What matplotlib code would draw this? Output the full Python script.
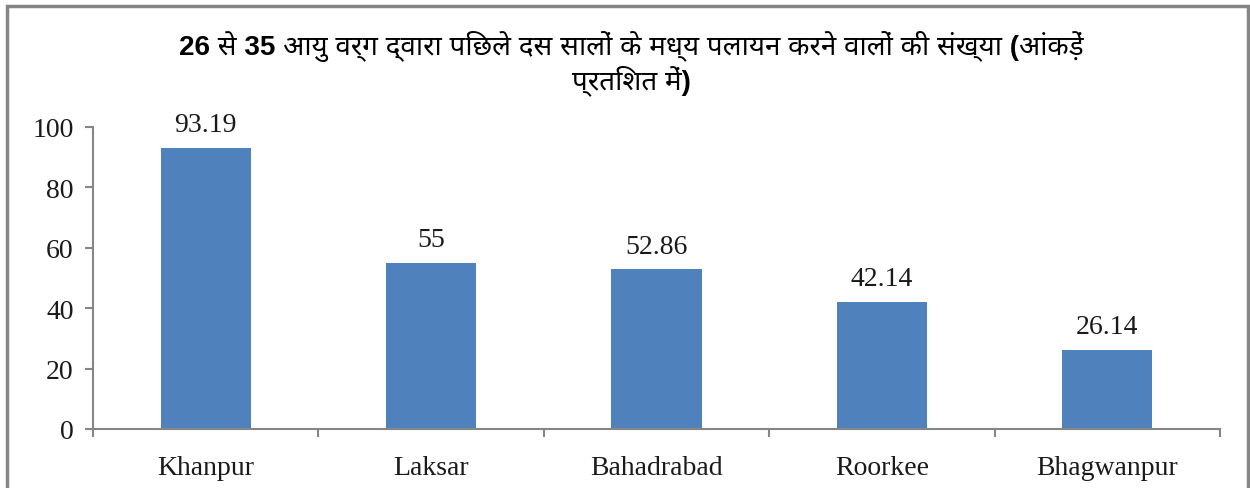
import matplotlib.pyplot as plt
from matplotlib.patches import Rectangle

# chart data
title = "26 से 35 आयु वर्ग द्वारा पिछले दस सालों के मध्य पलायन करने वालों की संख्या (आंकड़ें\nप्रतिशत में)"
blocks = ["Khanpur", "Laksar", "Bahadrabad", "Roorkee", "Bhagwanpur"]
values = [93.19, 55, 52.86, 42.14, 26.14]
value_labels = ["93.19", "55", "52.86", "42.14", "26.14"]
yticks = [0, 20, 40, 60, 80, 100]

serif = ["Liberation Serif", "DejaVu Serif"]
title_fonts = ["Liberation Sans", "Noto Sans", "DejaVu Sans"]

fig = plt.figure(figsize=(12.5, 4.89), dpi=100)
ax = fig.add_axes([0.0744, 0.1207, 0.9016, 0.6176])

x = range(len(blocks))
ax.bar(x, values, width=0.4, color="#4f81bd", zorder=2)
for xi, v, lab in zip(x, values, value_labels):
    ax.text(xi, v + 3.5, lab, ha="center", va="bottom", fontsize=20, family=serif, color="#1a1a1a")

ax.set_xlim(-0.5, len(blocks) - 0.5)
ax.set_ylim(0, 100)
ax.set_yticks(yticks)
ax.set_yticklabels([str(t) for t in yticks], fontsize=20, family=serif, color="#1a1a1a")

# category labels centred, ticks at the boundaries
ax.set_xticks([i - 0.5 for i in range(len(blocks) + 1)])
ax.set_xticklabels([])
ax.set_xticks(list(x), minor=True)
ax.set_xticklabels(blocks, minor=True, fontsize=20, family=serif, color="#1a1a1a")
ax.tick_params(axis="x", which="minor", length=0, pad=19)
ax.tick_params(axis="x", which="major", length=6, width=1.5, color="#868686")
ax.tick_params(axis="y", length=6, width=1.5, color="#868686", pad=8)

for side in ["top", "right"]:
    ax.spines[side].set_visible(False)
for side in ["left", "bottom"]:
    ax.spines[side].set_color("#868686")
    ax.spines[side].set_linewidth(1.5)

fig.text(0.505, 0.937, title, ha="center", va="top", fontsize=20, fontweight="bold",
         family=title_fonts, linespacing=1.15)

# outer chart frame
fig.patches.append(Rectangle((7 / 1250, -0.05), 1241 / 1250, 1.05 - 7 / 489, transform=fig.transFigure,
                             fill=False, edgecolor="#868686", linewidth=2.5))

fig.savefig("out.png", dpi=100)
